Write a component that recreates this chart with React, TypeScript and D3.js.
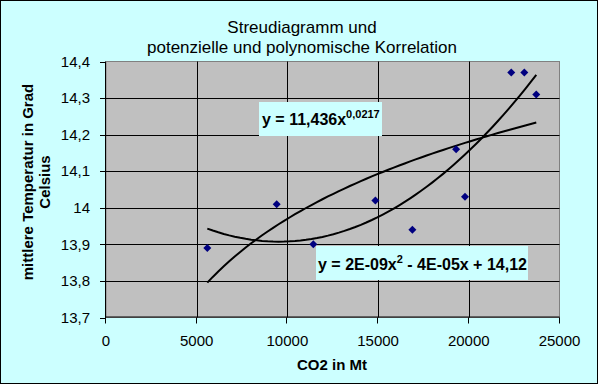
import React from 'react';
import * as d3 from 'd3';

// ---- data ----
const co2Mt = [5585, 9410, 11430, 14850, 16890, 19300, 19790, 22340, 23060, 23720];
const tempC = [13.89, 14.01, 13.9, 14.02, 13.94, 14.16, 14.03, 14.37, 14.37, 14.31];
const yTicks = [13.7, 13.8, 13.9, 14.0, 14.1, 14.2, 14.3, 14.4];
const xTicks = [0, 5000, 10000, 15000, 20000, 25000];
const titleLines = ['Streudiagramm und', 'potenzielle und polynomische Korrelation'];
const yTitleLines = ['mittlere Temperatur in Grad', 'Celsius'];
const xTitle = 'CO2 in Mt';
const powerLabel = { base: 'y = 11,436x', sup: '0,0217' };
const polyLabel = { a: 'y = 2E-09x', sup: '2', b: ' - 4E-05x + 14,12' };

// ---- layout ----
const W = 599;
const H = 385;
const M = { left: 106, right: 559.5, top: 61.5, bottom: 317.5 };
const FONT = '"Liberation Sans", Arial, Helvetica, sans-serif';

function fitPower(xs: number[], ys: number[]) {
  const lx = xs.map(Math.log);
  const ly = ys.map(Math.log);
  const n = xs.length;
  const mx = d3.mean(lx)!;
  const my = d3.mean(ly)!;
  let sxy = 0, sxx = 0;
  for (let i = 0; i < n; i++) {
    sxy += (lx[i] - mx) * (ly[i] - my);
    sxx += (lx[i] - mx) ** 2;
  }
  const b = sxy / sxx;
  const a = Math.exp(my - b * mx);
  return (x: number) => a * Math.pow(x, b);
}

function fitQuad(xs: number[], ys: number[]) {
  const s = 10000;
  const u = xs.map((x) => x / s);
  const S = [0, 0, 0, 0, 0];
  const T = [0, 0, 0];
  u.forEach((x, i) => {
    for (let k = 0; k < 5; k++) S[k] += Math.pow(x, k);
    for (let k = 0; k < 3; k++) T[k] += Math.pow(x, k) * ys[i];
  });
  const A = [
    [S[0], S[1], S[2], T[0]],
    [S[1], S[2], S[3], T[1]],
    [S[2], S[3], S[4], T[2]],
  ];
  for (let i = 0; i < 3; i++) {
    for (let j = i + 1; j < 3; j++) {
      const f = A[j][i] / A[i][i];
      for (let k = i; k < 4; k++) A[j][k] -= f * A[i][k];
    }
  }
  const c = [0, 0, 0];
  for (let i = 2; i >= 0; i--) {
    let v = A[i][3];
    for (let k = i + 1; k < 3; k++) v -= A[i][k] * c[k];
    c[i] = v / A[i][i];
  }
  return (x: number) => {
    const t = x / s;
    return c[0] + c[1] * t + c[2] * t * t;
  };
}

const fmtY = (v: number) => String(+v.toFixed(1)).replace('.', ',');

export default function App() {
  const x = d3.scaleLinear().domain([0, 25000]).range([M.left, M.right]);
  const y = d3.scaleLinear().domain([13.7, 14.4]).range([M.bottom, M.top]);

  const powerFn = fitPower(co2Mt, tempC);
  const quadFn = fitQuad(co2Mt, tempC);
  const [xmin, xmax] = d3.extent(co2Mt) as [number, number];
  const samples = d3.range(0, 61).map((i) => xmin + ((xmax - xmin) * i) / 60);
  const line = d3
    .line<number>()
    .x((d) => x(d))
    .curve(d3.curveLinear);
  const powerPath = line.y((d) => y(powerFn(d)))(samples) || '';
  const quadPath = line.y((d) => y(quadFn(d)))(samples) || '';

  const diamond = 'M0,-4L4,0L0,4L-4,0Z';

  return (
    <svg
      width={W}
      height={H}
      style={{ position: 'absolute', left: 0, top: 0, background: '#fff' }}
      fontFamily={FONT}
    >
      <rect x={0.5} y={0.5} width={597} height={383} fill="#CCFFFF" stroke="#000" strokeWidth={1} />

      {/* title */}
      {titleLines.map((t, i) => (
        <text key={i} x={302} y={33 + i * 19.5} textAnchor="middle" fontSize={17} fill="#000">
          {t}
        </text>
      ))}

      {/* plot area */}
      <rect
        x={M.left}
        y={M.top}
        width={M.right - M.left}
        height={M.bottom - M.top}
        fill="#C0C0C0"
        stroke="#808080"
        strokeWidth={1}
      />

      {/* grid */}
      {yTicks.slice(1, -1).map((t) => (
        <line key={'gy' + t} x1={M.left} x2={M.right} y1={Math.round(y(t)) + 0.5} y2={Math.round(y(t)) + 0.5} stroke="#000" />
      ))}
      {xTicks.slice(1, -1).map((t) => (
        <line key={'gx' + t} x1={Math.round(x(t)) + 0.5} x2={Math.round(x(t)) + 0.5} y1={M.top} y2={M.bottom} stroke="#000" />
      ))}

      {/* axes */}
      <line x1={M.left - 0.5} x2={M.left - 0.5} y1={M.top} y2={M.bottom + 0.5} stroke="#000" />
      <line x1={M.left - 0.5} x2={M.right} y1={M.bottom - 0.5} y2={M.bottom - 0.5} stroke="#000" />

      {/* y ticks */}
      {yTicks.map((t) => (
        <g key={'ty' + t}>
          <line x1={M.left - 6} x2={M.left} y1={Math.round(y(t)) + 0.5} y2={Math.round(y(t)) + 0.5} stroke="#000" />
          <text x={90} y={y(t)} dy="0.35em" textAnchor="end" fontSize={15} fill="#000">
            {fmtY(t)}
          </text>
        </g>
      ))}

      {/* x ticks */}
      {xTicks.map((t) => (
        <g key={'tx' + t}>
          <line x1={Math.round(x(t)) - 0.5} x2={Math.round(x(t)) - 0.5} y1={M.bottom} y2={M.bottom + 6} stroke="#000" />
          <text x={x(t)} y={346} textAnchor="middle" fontSize={15} fill="#000">
            {t}
          </text>
        </g>
      ))}

      {/* axis titles */}
      <text x={332} y={370} textAnchor="middle" fontSize={15} fontWeight="bold" fill="#000">
        {xTitle}
      </text>
      {yTitleLines.map((t, i) => (
        <text
          key={'yt' + i}
          transform={`translate(${33 + i * 17},182) rotate(-90)`}
          textAnchor="middle"
          fontSize={15}
          fontWeight="bold"
          fill="#000"
        >
          {t}
        </text>
      ))}

      {/* trend lines */}
      <path d={powerPath} fill="none" stroke="#000" strokeWidth={2} />
      <path d={quadPath} fill="none" stroke="#000" strokeWidth={2} />

      {/* points */}
      {co2Mt.map((c, i) => (
        <path key={'p' + i} d={diamond} transform={`translate(${x(c)},${y(tempC[i])})`} fill="#000080" />
      ))}

      {/* equation labels */}
      <rect x={259} y={102} width={123} height={34} fill="#CCFFFF" />
      <text x={262} y={125} fontSize={16} fontWeight="bold" fill="#000">
        {powerLabel.base}
        <tspan dy={-7} fontSize={11}>
          {powerLabel.sup}
        </tspan>
      </text>

      <rect x={316} y={246} width={212} height={34} fill="#CCFFFF" />
      <text x={318} y={269.5} fontSize={16} fontWeight="bold" fill="#000">
        {polyLabel.a}
        <tspan dy={-7} fontSize={11}>
          {polyLabel.sup}
        </tspan>
        <tspan dy={7}>{polyLabel.b}</tspan>
      </text>
    </svg>
  );
}
